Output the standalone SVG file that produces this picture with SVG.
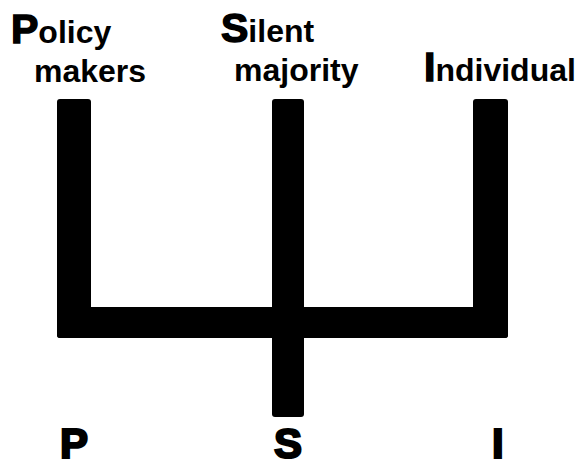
<svg xmlns="http://www.w3.org/2000/svg" width="584" height="462" viewBox="0 0 584 462">
<style>
.lbl{font-family:"Liberation Sans",Arial,sans-serif;font-weight:bold;font-size:32px;fill:#000}
.big{font-size:41px;stroke:#000;stroke-width:1.5}
.bot{font-family:"Liberation Sans",Arial,sans-serif;font-weight:bold;font-size:42px;fill:#000;stroke:#000;stroke-width:2.2}
.bar{fill:#000}
</style>
<rect width="584" height="462" fill="#fff"/>
<g id="connectors">
<rect class="bar" x="57" y="307" width="451" height="31" rx="3"/>
</g>
<g id="node-policy">
<text class="lbl" x="11" y="43"><tspan class="big">P</tspan><tspan>olicy</tspan></text>
<text class="lbl" x="34" y="82">makers</text>
<rect class="bar" x="57" y="99" width="34" height="239" rx="3"/>
</g>
<g id="node-silent">
<text class="lbl" x="221" y="42"><tspan class="big">S</tspan><tspan>ilent</tspan></text>
<text class="lbl" x="234" y="81">majority</text>
<rect class="bar" x="272" y="99" width="32" height="318" rx="3"/>
</g>
<g id="node-individual">
<text class="lbl" x="424" y="81"><tspan class="big">I</tspan><tspan>ndividual</tspan></text>
<rect class="bar" x="473" y="99" width="35" height="239" rx="3"/>
</g>
<g id="bottom-labels">
<text class="bot" x="60" y="458">P</text>
<text class="bot" x="274" y="458">S</text>
<text class="bot" x="492" y="458">I</text>
</g>
</svg>
